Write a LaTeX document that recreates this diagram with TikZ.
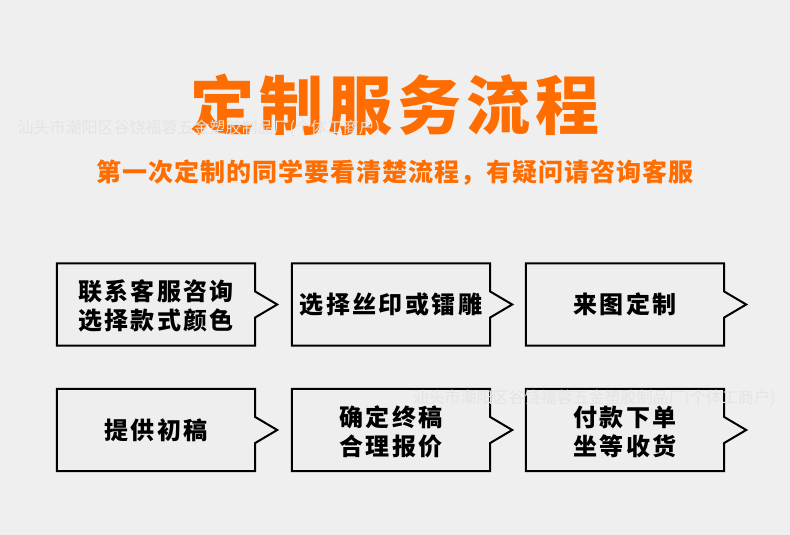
\documentclass[tikz,border=0pt]{standalone}
\usepackage{fontspec}
\usepackage{tikz}
\newfontfamily\cjk{Noto Sans CJK SC}
\newfontfamily\cjkblack{Noto Sans CJK SC Black}
\definecolor{bgcol}{RGB}{239,239,239}
\definecolor{boxcol}{RGB}{238,238,238}
\definecolor{titlecol}{RGB}{255,108,0}
\definecolor{wmcol}{RGB}{228,228,228}

\begin{document}
\begin{tikzpicture}[x=1pt,y=-1pt,
			stepbox/.style={minimum width=198pt,minimum height=82pt,inner sep=0pt,align=center,
				font={\cjk\bfseries\fontsize{24}{29}\selectfont\addfontfeature{LetterSpace=10}}},
			boxline/.style={draw=black,line width=2pt,fill=boxcol,line join=miter},
			wmark/.style={text=wmcol,inner sep=0pt,font={\cjk\fontsize{16}{16}\selectfont}}
			]
			\fill[bgcol] (0,0) rectangle (790,535);
			%%%%%%%%%%%%%%% title
			\node[text=titlecol,inner sep=0pt,font={\cjkblack\fontsize{64}{64}\selectfont\addfontfeature{LetterSpace=8}}] (title) at (395,105) {定制服务流程};
			\node[wmark] (wm1) at (199,128) {汕头市潮阳区谷饶福蓉五金塑胶制品厂(个体工商户)};
			\node[text=titlecol,inner sep=0pt,font={\cjk\bfseries\fontsize{25}{25}\selectfont\addfontfeature{LetterSpace=4}}] (sub) at (395,173) {第一次定制的同学要看清楚流程，有疑问请咨询客服};
			%%%%%%%%%%%%%%% row 1
			\node[stepbox] (b1) at (156,304.5) {};
			\node[stepbox] (b2) at (391,304.5) {};
			\node[stepbox] (b3) at (625,304.5) {};
			%%%%%%%%%%%%%%% row 2
			\node[stepbox] (c1) at (156,430) {};
			\node[stepbox] (c2) at (391,430) {};
			\node[stepbox] (c3) at (625,430) {};
			\draw[boxline] ([yshift=13pt]b1.east) -- (b1.north east) -- (b1.north west) -- (b1.south west) -- (b1.south east) -- ([yshift=-13pt]b1.east) -- ([xshift=22pt]b1.east) -- cycle;
			\draw[boxline] ([yshift=13pt]b2.east) -- (b2.north east) -- (b2.north west) -- (b2.south west) -- (b2.south east) -- ([yshift=-13pt]b2.east) -- ([xshift=22pt]b2.east) -- cycle;
			\draw[boxline] ([yshift=13pt]b3.east) -- (b3.north east) -- (b3.north west) -- (b3.south west) -- (b3.south east) -- ([yshift=-13pt]b3.east) -- ([xshift=22pt]b3.east) -- cycle;
			\draw[boxline] ([yshift=13pt]c1.east) -- (c1.north east) -- (c1.north west) -- (c1.south west) -- (c1.south east) -- ([yshift=-13pt]c1.east) -- ([xshift=22pt]c1.east) -- cycle;
			\draw[boxline] ([yshift=13pt]c2.east) -- (c2.north east) -- (c2.north west) -- (c2.south west) -- (c2.south east) -- ([yshift=-13pt]c2.east) -- ([xshift=22pt]c2.east) -- cycle;
			\draw[boxline] ([yshift=13pt]c3.east) -- (c3.north east) -- (c3.north west) -- (c3.south west) -- (c3.south east) -- ([yshift=-13pt]c3.east) -- ([xshift=22pt]c3.east) -- cycle;
			%%%%%%%%%%%%%%% texts
			\node[stepbox] at ([yshift=-1.5pt]b1) {联系客服咨询\\选择款式颜色};
			\node[stepbox] at (b2) {选择丝印或镭雕};
			\node[stepbox] at (b3) {来图定制};
			\node[stepbox] at (c1) {提供初稿};
			\node[stepbox] at ([yshift=-1.5pt]c2) {确定终稿\\合理报价};
			\node[stepbox] at ([yshift=-1.5pt]c3) {付款下单\\坐等收货};
			\node[wmark] (wm2) at (594,398) {汕头市潮阳区谷饶福蓉五金塑胶制品厂(个体工商户)};
		\end{tikzpicture}
\end{document}
